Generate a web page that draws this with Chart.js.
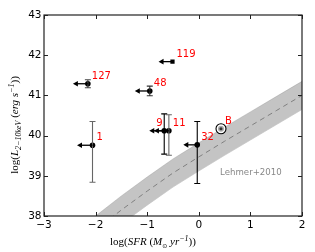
<!DOCTYPE html>
<html><head><meta charset="utf-8">
<script src="https://cdn.jsdelivr.net/npm/chart.js@4/dist/chart.umd.min.js"></script>
<style>html,body{margin:0;padding:0;background:#fff}#w{width:315px;height:252px}</style>
</head><body><div id="w"><canvas id="c" width="315" height="252"></canvas></div>
<script>
// ---- data ----
const names   = ['127', '48', '119', '1', '9', '11', '32'];
const logSFR  = [-2.15, -0.95, -0.51, -2.06, -0.67, -0.58, -0.03];
const logLx   = [41.29, 41.11, 41.84, 39.76, 40.12, 40.12, 39.77];
const errUp   = [0.10, 0.12, 0.00, 0.59, 0.42, 0.40, 0.58];
const errDown = [0.10, 0.12, 0.00, 0.92, 0.58, 0.61, 0.96];
const arrowLen = [0.29, 0.29, 0.27, 0.30, 0.29, 0.29, 0.27];
const srcB = {name: 'B', x: 0.43, y: 40.17};
const bandX     = [-2.0, -1.5, -1.0, -0.5, 0.0, 0.5, 1.0, 1.5, 2.0];
const bandMid   = [37.65, 38.15, 38.62, 39.07, 39.47, 39.86, 40.24, 40.62, 41.00];
const bandUpper = [38.00, 38.50, 38.97, 39.42, 39.82, 40.21, 40.59, 40.97, 41.35];
const bandLower = [37.30, 37.80, 38.27, 38.72, 39.12, 39.51, 39.89, 40.27, 40.65];
const bandLabel = {text: 'Lehmer+2010', x: 1.01, y: 39.08};
const xTicks = [-3, -2, -1, 0, 1, 2];
const yTicks = [38, 39, 40, 41, 42, 43];

const pts = logSFR.map((x, i) => ({x, y: logLx[i]}));
const barColor = ['#444', '#333', '#000', '#666', '#000', '#666', '#000'];

function richWidth(ctx, segs) {
  let w = 0;
  for (const s of segs) { ctx.font = s.f; w += ctx.measureText(s.t).width; }
  return w;
}
function drawRich(ctx, segs, cx, cy, rot) {
  ctx.save();
  ctx.translate(cx, cy);
  ctx.rotate(rot);
  const w = richWidth(ctx, segs);
  let x = -w / 2;
  ctx.fillStyle = '#000';
  ctx.textBaseline = 'alphabetic';
  ctx.textAlign = 'left';
  for (const s of segs) {
    ctx.font = s.f;
    ctx.fillText(s.t, x, 4 + (s.dy || 0));
    x += ctx.measureText(s.t).width;
  }
  ctx.restore();
}
const R = '11px "Liberation Serif"', I = 'italic 11px "Liberation Serif"';
const RS = '8px "Liberation Serif"', IS = 'italic 8px "Liberation Serif"';
const xTitle = [
  {t: 'log(', f: R}, {t: 'SFR', f: I}, {t: ' (', f: R}, {t: 'M', f: I},
  {t: '\u2299', f: '6px "DejaVu Sans"', dy: 2.5}, {t: ' yr', f: I},
  {t: '\u22121', f: IS, dy: -4}, {t: '))', f: R}
];
const yTitle = [
  {t: 'log(', f: R}, {t: 'L', f: I}, {t: '2\u221210keV', f: IS, dy: 2.5},
  {t: ' (', f: R}, {t: 'erg s', f: I}, {t: '\u22121', f: IS, dy: -4}, {t: '))', f: R}
];

const deco = {
  id: 'deco',
  afterDatasetsDraw(chart) {
    const ctx = chart.ctx, xs = chart.scales.x, ys = chart.scales.y, a = chart.chartArea;
    ctx.save();
    // error bars + arrows
    pts.forEach((p, i) => {
      const px = xs.getPixelForValue(p.x), py = ys.getPixelForValue(p.y);
      if (errUp[i] > 0 || errDown[i] > 0) {
        const t = ys.getPixelForValue(p.y + errUp[i]), b = ys.getPixelForValue(p.y - errDown[i]);
        ctx.strokeStyle = barColor[i]; ctx.lineWidth = 1.1;
        ctx.beginPath();
        ctx.moveTo(px, t); ctx.lineTo(px, b);
        ctx.moveTo(px - 3, t); ctx.lineTo(px + 3, t);
        ctx.moveTo(px - 3, b); ctx.lineTo(px + 3, b);
        ctx.stroke();
      }
      const tip = xs.getPixelForValue(p.x - arrowLen[i]);
      ctx.strokeStyle = '#000'; ctx.fillStyle = '#000'; ctx.lineWidth = 1.3;
      ctx.beginPath(); ctx.moveTo(px, py); ctx.lineTo(tip + 4, py); ctx.stroke();
      ctx.beginPath(); ctx.moveTo(tip, py); ctx.lineTo(tip + 5, py - 2.8); ctx.lineTo(tip + 5, py + 2.8); ctx.closePath(); ctx.fill();
    });
    // labels
    ctx.fillStyle = '#ff0000'; ctx.font = '10px "DejaVu Sans"'; ctx.textBaseline = 'middle';
    pts.forEach((p, i) => {
      const px = xs.getPixelForValue(p.x), py = ys.getPixelForValue(p.y);
      if (names[i] === '9') { ctx.textAlign = 'right'; ctx.fillText(names[i], px - 1.5, py - 7.5); }
      else { ctx.textAlign = 'left'; ctx.fillText(names[i], px + 4, py - 7.5); }
    });
    const bx = xs.getPixelForValue(srcB.x), by = ys.getPixelForValue(srcB.y);
    ctx.textAlign = 'left';
    ctx.fillText(srcB.name, bx + 4, by - 7.5);
    // B symbol
    ctx.beginPath(); ctx.arc(bx, by, 5, 0, Math.PI * 2);
    ctx.fillStyle = '#fff'; ctx.fill();
    ctx.strokeStyle = '#000'; ctx.lineWidth = 1.1; ctx.stroke();
    ctx.beginPath(); ctx.arc(bx, by, 3, 0, Math.PI * 2); ctx.fillStyle = '#aaa'; ctx.fill();
    ctx.beginPath(); ctx.arc(bx, by, 1.5, 0, Math.PI * 2); ctx.fillStyle = '#333'; ctx.fill();
    // band label
    ctx.fillStyle = '#888'; ctx.font = '8.6px "DejaVu Sans"'; ctx.textAlign = 'center';
    ctx.fillText(bandLabel.text, xs.getPixelForValue(bandLabel.x), ys.getPixelForValue(bandLabel.y));
    // frame and inward ticks
    ctx.strokeStyle = '#222'; ctx.lineWidth = 1.2;
    ctx.strokeRect(a.left, a.top, a.right - a.left, a.bottom - a.top);
    ctx.lineWidth = 1;
    ctx.beginPath();
    xTicks.forEach(v => {
      const x = Math.round(xs.getPixelForValue(v)) + 0.5;
      ctx.moveTo(x, a.bottom); ctx.lineTo(x, a.bottom - 4);
      ctx.moveTo(x, a.top); ctx.lineTo(x, a.top + 4);
    });
    yTicks.forEach(v => {
      const y = Math.round(ys.getPixelForValue(v)) + 0.5;
      ctx.moveTo(a.left, y); ctx.lineTo(a.left + 4, y);
      ctx.moveTo(a.right, y); ctx.lineTo(a.right - 4, y);
    });
    ctx.stroke();
    ctx.restore();
    // axis titles
    drawRich(ctx, xTitle, 153, 241, 0);
    drawRich(ctx, yTitle, 14, 125, -Math.PI / 2);
  }
};

new Chart(document.getElementById('c'), {
  type: 'scatter',
  data: {
    datasets: [
      {data: pts, pointRadius: pts.map((p, i) => names[i] === '119' ? 3 : 2.8),
       pointStyle: names.map(n => n === '119' ? 'rect' : 'circle'),
       backgroundColor: '#000', borderColor: '#000', borderWidth: 0, order: 0},
      {type: 'line', data: bandX.map((x, i) => ({x, y: bandUpper[i]})), borderColor: 'rgba(140,140,140,0.6)',
       borderWidth: 0.6, pointRadius: 0, fill: '+1', backgroundColor: '#c4c4c4', order: 3},
      {type: 'line', data: bandX.map((x, i) => ({x, y: bandLower[i]})), borderColor: 'rgba(140,140,140,0.6)',
       borderWidth: 0.6, pointRadius: 0, fill: false, order: 3},
      {type: 'line', data: bandX.map((x, i) => ({x, y: bandMid[i]})), borderColor: '#808080',
       borderWidth: 1, borderDash: [5, 4], pointRadius: 0, fill: false, order: 2}
    ]
  },
  options: {
    responsive: false, animation: false, devicePixelRatio: 1,
    layout: {padding: {top: 15, right: 13, left: 0, bottom: 0}},
    plugins: {legend: {display: false}, tooltip: {enabled: false}},
    scales: {
      x: {type: 'linear', min: -3, max: 2,
          afterFit: s => { s.height = 36; },
          afterBuildTicks: s => { s.ticks = xTicks.map(v => ({value: v})); },
          grid: {display: false, drawTicks: false}, border: {display: false},
          ticks: {padding: 3, color: '#000', font: {family: 'DejaVu Sans', size: 10.5},
                  callback: v => (v < 0 ? '\u2212' + Math.abs(v) : String(v))}},
      y: {type: 'linear', min: 38, max: 43,
          afterFit: s => { s.width = 44; },
          afterBuildTicks: s => { s.ticks = yTicks.map(v => ({value: v})); },
          grid: {display: false, drawTicks: false}, border: {display: false},
          ticks: {padding: 2.5, color: '#000', font: {family: 'DejaVu Sans', size: 10.5},
                  callback: v => String(v)}}
    }
  },
  plugins: [deco]
});
</script></body></html>
